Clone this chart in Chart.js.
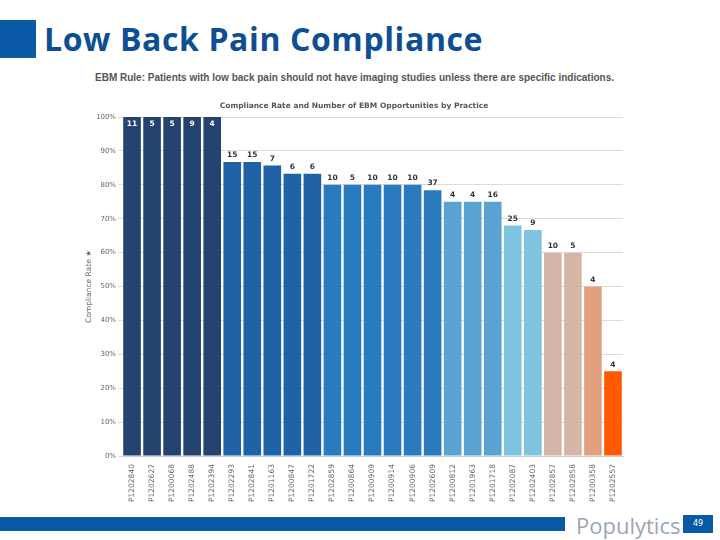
<!DOCTYPE html>
<html>
<head>
<meta charset="utf-8">
<script src="https://cdn.jsdelivr.net/npm/chart.js@4.4.0/dist/chart.umd.min.js"></script>
<style>
  body { margin: 0; width: 720px; height: 540px; background: #fff; position: relative; overflow: hidden; font-family: "DejaVu Sans", sans-serif; }
  #square { position: absolute; left: 0; top: 20px; width: 36px; height: 38px; background: #0b5aa6; }
  #title { position: absolute; left: 44px; top: 17px; font-family: "Open Sans", sans-serif; font-weight: bold; font-size: 32px; color: #0d4f92; letter-spacing: 0.6px; white-space: nowrap; }
  #rule { position: absolute; left: 95px; top: 72px; font-family: "Liberation Sans", sans-serif; font-size: 10px; font-weight: bold; color: #555; white-space: nowrap; }
  #wrap { position: absolute; left: 85px; top: 99px; width: 553px; height: 403px; }
  #band { position: absolute; left: 0; top: 517px; width: 565px; height: 14px; background: #0b5aa6; }
  #logo { position: absolute; left: 576px; top: 510px; font-family: "Open Sans", sans-serif; font-size: 22px; color: #9aa6b6; }
  #page { position: absolute; left: 683px; top: 515px; width: 30px; height: 18px; background: #0b5aa6; color: #fff; font-size: 8px; text-align: center; line-height: 18px; }
</style>
</head>
<body>
<div id="square"></div>
<div id="title">Low Back Pain Compliance</div>
<div id="rule">EBM Rule: Patients with low back pain should not have imaging studies unless there are specific indications.</div>
<div id="wrap"><canvas id="chart"></canvas></div>
<div id="band"></div>
<div id="logo">Populytics</div>
<div id="page">49</div>
<script>
const practices = ['P1202840', 'P1202627', 'P1200068', 'P1202488', 'P1202394', 'P1202293', 'P1202841', 'P1201163', 'P1200847', 'P1201722',
  'P1202859', 'P1200864', 'P1200909', 'P1200914', 'P1200906', 'P1202609', 'P1200812', 'P1201963', 'P1201718', 'P1202087',
  'P1202403', 'P1202857', 'P1202858', 'P1200358', 'P1202557'];
const complianceRate = [100, 100, 100, 100, 100, 86.7, 86.7, 85.7, 83.3, 83.3,
  80, 80, 80, 80, 80, 78.4, 75, 75, 75, 68,
  66.7, 60, 60, 50, 25];
const opportunities = [11, 5, 5, 9, 4, 15, 15, 7, 6, 6,
  10, 5, 10, 10, 10, 37, 4, 4, 16, 25,
  9, 10, 5, 4, 4];
const barColors = ['#24436e', '#24436e', '#24436e', '#24436e', '#24436e',
  '#1f62a6', '#1f62a6', '#1f62a6', '#1f62a6', '#1f62a6',
  '#2a7bbd', '#2a7bbd', '#2a7bbd', '#2a7bbd', '#2a7bbd', '#2a7bbd',
  '#5aa2cf', '#5aa2cf', '#5aa2cf',
  '#7ec4e1', '#7ec4e1',
  '#d5b6a6', '#d5b6a6', '#e1a181', '#ff5a00'];

// counts drawn on top of each bar
const countLabels = {
  id: 'countLabels',
  afterDatasetsDraw(chart) {
    const ctx = chart.ctx;
    const meta = chart.getDatasetMeta(0);
    ctx.save();
    ctx.font = 'bold 7.5px "DejaVu Sans"';
    ctx.textAlign = 'center';
    meta.data.forEach((bar, i) => {
      if (complianceRate[i] >= 100) {
        ctx.fillStyle = '#fff';
        ctx.textBaseline = 'top';
        ctx.fillText(opportunities[i], bar.x, bar.y + 3);
      } else {
        ctx.fillStyle = '#333';
        ctx.textBaseline = 'bottom';
        ctx.fillText(opportunities[i], bar.x, bar.y - 3);
      }
    });
    ctx.restore();
  }
};

new Chart(document.getElementById('chart'), {
  type: 'bar',
  data: {
    labels: practices,
    datasets: [{
      data: complianceRate,
      backgroundColor: barColors,
      categoryPercentage: 1,
      barPercentage: 0.88
    }]
  },
  options: {
    responsive: true,
    maintainAspectRatio: false,
    animation: false,
    layout: { padding: { top: 0, right: 15, bottom: 0, left: 0 } },
    plugins: {
      legend: { display: false },
      tooltip: { enabled: false },
      title: {
        display: true,
        text: 'Compliance Rate and Number of EBM Opportunities by Practice',
        color: '#555',
        font: { family: 'DejaVu Sans', size: 7.5, weight: 'bold' },
        padding: { top: 3, bottom: 6 }
      }
    },
    scales: {
      x: {
        grid: { display: false },
        border: { color: '#ccc' },
        ticks: {
          color: '#666',
          font: { family: 'DejaVu Sans', size: 7.5 },
          minRotation: 90,
          maxRotation: 90,
          autoSkip: false,
          padding: 0
        }
      },
      y: {
        min: 0,
        max: 100,
        grid: { color: '#dcdcdc', tickLength: 4 },
        border: { display: false },
        ticks: {
          stepSize: 10,
          color: '#666',
          font: { family: 'DejaVu Sans', size: 7 },
          padding: 2,
          callback: v => v + '%'
        },
        title: {
          display: true,
          text: 'Compliance Rate ★',
          color: '#666',
          font: { family: 'DejaVu Sans', size: 7.5 },
          padding: 0
        }
      }
    }
  },
  plugins: [countLabels]
});
</script>
</body>
</html>
